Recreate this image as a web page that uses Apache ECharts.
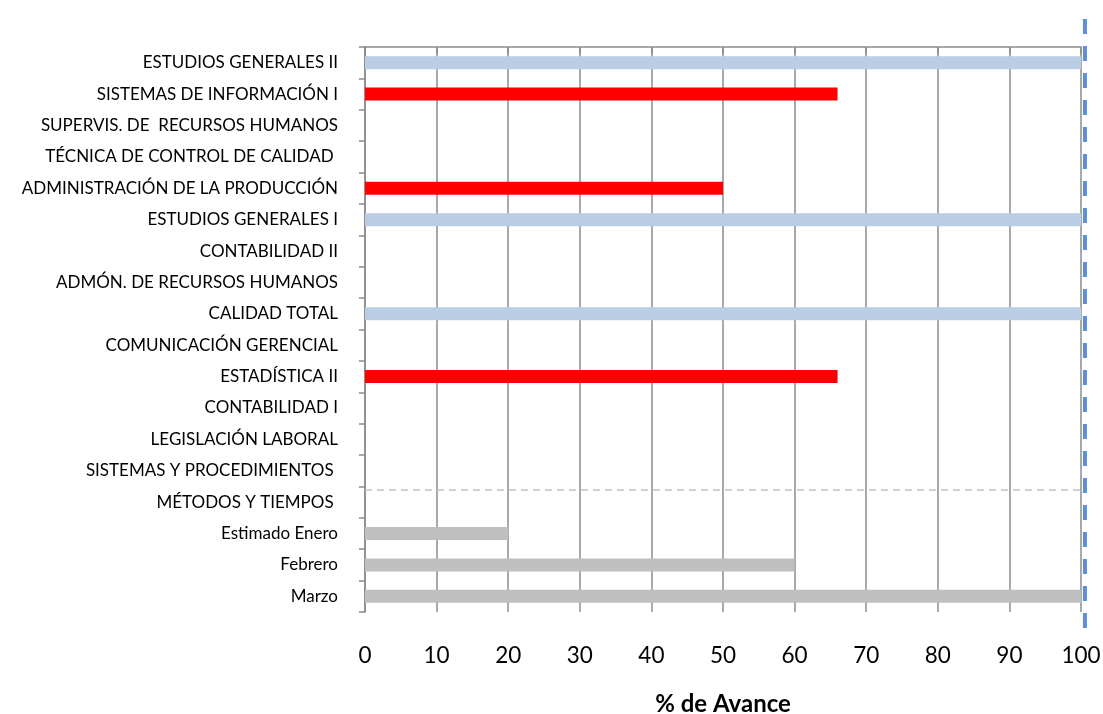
<!DOCTYPE html>
<html>
<head>
<meta charset="utf-8">
<script src="https://cdn.jsdelivr.net/npm/echarts@6/dist/echarts.min.js"></script>
<style>html,body{margin:0;padding:0;background:#fff}#c{width:1103px;height:714px}</style>
</head>
<body>
<div id="c"></div>
<script>
const categories = [
  "ESTUDIOS GENERALES II",
  "SISTEMAS DE INFORMACIÓN I",
  "SUPERVIS. DE  RECURSOS HUMANOS",
  "TÉCNICA DE CONTROL DE CALIDAD ",
  "ADMINISTRACIÓN DE LA PRODUCCIÓN",
  "ESTUDIOS GENERALES I",
  "CONTABILIDAD II",
  "ADMÓN. DE RECURSOS HUMANOS",
  "CALIDAD TOTAL",
  "COMUNICACIÓN GERENCIAL",
  "ESTADÍSTICA II",
  "CONTABILIDAD I",
  "LEGISLACIÓN LABORAL",
  "SISTEMAS Y PROCEDIMIENTOS ",
  "MÉTODOS Y TIEMPOS ",
  "Estimado Enero",
  "Febrero",
  "Marzo"
];
const completed = [100, null, null, null, null, 100, null, null, 100, null, null, null, null, null, null, null, null, null];
const inProgress = [null, 66, null, null, 50, null, null, null, null, null, 66, null, null, null, null, null, null, null];
const estimated = [null, null, null, null, null, null, null, null, null, null, null, null, null, null, null, 20, 60, 100];
const xTicks = [0, 10, 20, 30, 40, 50, 60, 70, 80, 90, 100];
const separatorPos = [14.12];
const targetLine = [[100.55, 0], [100.55, 1]];

const chart = echarts.init(document.getElementById('c'), null, {renderer: 'canvas'});
const font = 'Lato, "Open Sans", sans-serif';
chart.setOption({
  animation: false,
  textStyle: {fontFamily: font},
  grid: [
    {left: 365, right: 22, top: 47, bottom: 102, containLabel: false, outerBoundsMode: 'none'},
    {left: 365, right: 7.68, top: 13, bottom: 86, containLabel: false, outerBoundsMode: 'none'}
  ],
  xAxis: [
    {
      type: 'value', gridIndex: 0, min: xTicks[0], max: xTicks[xTicks.length - 1], interval: 10,
      axisLine: {show: true, lineStyle: {color: '#8a8a8a', width: 1.5}},
      axisTick: {show: true, length: 7, lineStyle: {color: '#8a8a8a', width: 1.5}},
      axisLabel: {fontSize: 22.5, color: '#000', margin: 32, fontFamily: font},
      splitLine: {show: true, lineStyle: {color: '#8c8c8c', width: 1.5}},
      name: '% de Avance', nameLocation: 'middle', nameGap: 80,
      nameTextStyle: {fontSize: 24, fontWeight: 'bold', color: '#000', fontFamily: font}
    },
    {type: 'value', gridIndex: 1, min: 0, max: 102, show: false}
  ],
  yAxis: [
    {
      type: 'category', gridIndex: 0, data: categories, inverse: true,
      axisLine: {show: true, lineStyle: {color: '#8a8a8a', width: 1.5}},
      axisTick: {show: true, length: 6, lineStyle: {color: '#8a8a8a', width: 1.5}},
      axisLabel: {fontSize: 17, color: '#000', margin: 27, fontFamily: font},
      splitLine: {show: false}
    },
    {type: 'value', gridIndex: 0, min: 0, max: categories.length, inverse: true, show: false},
    {type: 'value', gridIndex: 1, min: 0, max: 1, show: false}
  ],
  series: [
    {type: 'bar', name: 'Completado', stack: 'a', xAxisIndex: 0, yAxisIndex: 0, data: completed, barWidth: 13, itemStyle: {color: '#b9cde5'}},
    {type: 'bar', name: 'En curso', stack: 'a', xAxisIndex: 0, yAxisIndex: 0, data: inProgress, barWidth: 13, itemStyle: {color: '#ff0000'}},
    {type: 'bar', name: 'Estimado', stack: 'a', xAxisIndex: 0, yAxisIndex: 0, data: estimated, barWidth: 13, itemStyle: {color: '#bfbfbf'}},
    {
      type: 'line', xAxisIndex: 0, yAxisIndex: 1, data: [], silent: true,
      markLine: {
        symbol: ['none', 'none'], silent: true, label: {show: false},
        lineStyle: {color: '#c0c0c0', type: [7, 5], width: 1.5},
        data: separatorPos.map(v => ({yAxis: v}))
      }
    },
    {
      type: 'line', xAxisIndex: 1, yAxisIndex: 2, data: targetLine, symbol: 'none', showSymbol: false, silent: true, clip: false,
      lineStyle: {color: '#5b8fd8', width: 4, type: [15, 12]}
    }
  ]
});
</script>
</body>
</html>
